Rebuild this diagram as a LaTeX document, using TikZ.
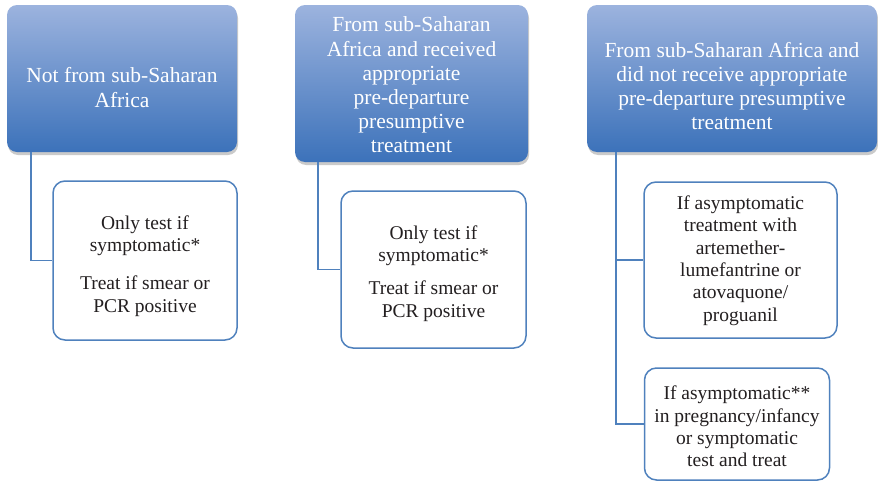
\documentclass[tikz,border=0pt]{standalone}
\usepackage{fontspec}
\setmainfont{Liberation Serif}
\usetikzlibrary{shadows}
\definecolor{topc}{RGB}{156,179,222}
\definecolor{botc}{RGB}{60,114,186}
\definecolor{linec}{RGB}{79,129,189}
\definecolor{txt}{RGB}{35,31,32}
\tikzset{
  headbox/.style={rectangle, rounded corners=10pt, top color=topc, bottom color=botc,
    draw=none, inner sep=0pt,
    drop shadow={shadow xshift=1pt, shadow yshift=-3pt, opacity=0.35, fill=black!60}},
  headtext/.style={text=white, align=center, inner sep=0pt,
    font=\fontsize{21.5}{24.2}\selectfont},
  childbox/.style={rectangle, rounded corners=12pt, draw=linec, line width=1.5pt, fill=white,
    inner sep=0pt},
  childtext/.style={text=txt, align=center, inner sep=0pt,
    font=\fontsize{19.5}{22.3}\selectfont},
  conn/.style={draw=linec, line width=1.5pt}
}
\begin{document}
\begin{tikzpicture}[x=1pt,y=-1pt]
\useasboundingbox (0,0) rectangle (878,482);
\clip (0,0) rectangle (878,482);
\node[headbox, minimum width=230pt, minimum height=147pt] (b1) at (122,78.5) {};
\node[headtext] (b1t) at ([yshift=-9pt]b1.center) {Not from sub-Saharan\\Africa};
\node[headbox, minimum width=233pt, minimum height=157pt] (b2) at (411.5,83.5) {};
\node[headtext] (b2t) at ([yshift=-1.5pt]b2.center)
  {From sub-Saharan\\Africa and received\\appropriate\\pre-departure\\presumptive\\treatment};
\node[headbox, minimum width=290pt, minimum height=147pt] (b3) at (732,78.5) {};
\node[headtext] (b3t) at ([yshift=-7.5pt]b3.center)
  {From sub-Saharan Africa and\\did not receive appropriate\\pre-departure presumptive\\treatment};
\node[childbox, minimum width=184pt, minimum height=159pt] (c1) at (145,260.5) {};
\node[childtext] (c1t) at ([yshift=-5.5pt]c1.center)
  {Only test if\\symptomatic*\\[16pt]Treat if smear or\\PCR positive};
\node[childbox, minimum width=185pt, minimum height=157pt] (c2) at (433.5,269.5) {};
\node[childtext] (c2t) at ([yshift=-4pt]c2.center)
  {Only test if\\symptomatic*\\[11pt]Treat if smear or\\PCR positive};
\node[childbox, minimum width=193pt, minimum height=156pt] (c3a) at (740.5,260) {};
\node[childtext] (c3at) at ([yshift=-0.5pt]c3a.center)
  {If asymptomatic\\treatment with\\artemether-\\lumefantrine or\\atovaquone/\\proguanil};
\node[childbox, minimum width=185pt, minimum height=112pt] (c3b) at (737,424) {};
\node[childtext] (c3bt) at ([yshift=-2.5pt]c3b.center)
  {If asymptomatic**\\in pregnancy/infancy\\or symptomatic\\test and treat};
\draw[conn] (b1.south west) ++(24,0) |- (c1.west);
\draw[conn] (b2.south west) ++(23,0) |- (c2.west);
\draw[conn] (b3.south west) ++(29,0) |- (c3a.west);
\draw[conn] (b3.south west) ++(29,0) |- (c3b.west);
\end{tikzpicture}
\end{document}
